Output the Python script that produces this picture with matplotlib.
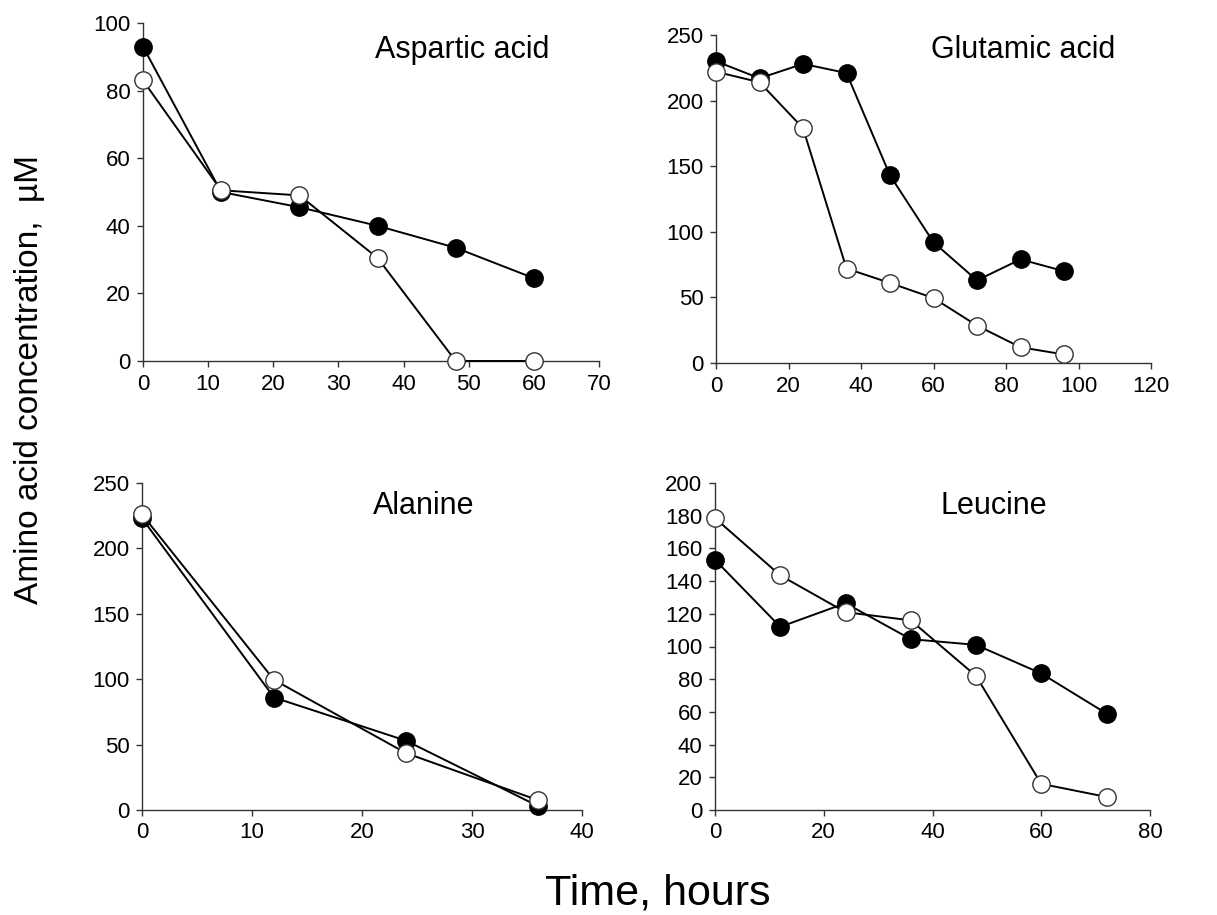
import matplotlib
matplotlib.use("Agg")
import matplotlib.pyplot as plt

plt.rcParams['font.family'] = ['Liberation Sans', 'DejaVu Sans']

# data (hours, uM)
asp_t = [0, 12, 24, 36, 48, 60]
asp_filled = [93, 50, 45.5, 40, 33.5, 24.5]
asp_open = [83, 50.5, 49, 30.5, 0, 0]

glu_t = [0, 12, 24, 36, 48, 60, 72, 84, 96]
glu_filled = [230, 217, 228, 221, 143, 92, 63, 79, 70]
glu_open = [222, 214, 179, 72, 61, 49.5, 28.5, 12, 6.5]

ala_t = [0, 12, 24, 36]
ala_filled = [223, 86, 53, 3]
ala_open = [226, 99.5, 43.5, 7.5]

leu_t = [0, 12, 24, 36, 48, 60, 72]
leu_filled = [153, 112, 126.5, 104.5, 101, 83.5, 59]
leu_open = [178.5, 143.5, 121, 116, 82, 16, 8]

panels = [
    ("Aspartic acid", asp_t, asp_filled, asp_open, (0, 70, 10), (0, 100, 20),
     [143, 361, 599, 23], (0.70, 0.92)),
    ("Glutamic acid", glu_t, glu_filled, glu_open, (0, 120, 20), (0, 250, 50),
     [716, 363, 1151, 35], (0.706, 0.955)),
    ("Alanine", ala_t, ala_filled, ala_open, (0, 40, 10), (0, 250, 50),
     [142, 810, 582, 483], (0.64, 0.93)),
    ("Leucine", leu_t, leu_filled, leu_open, (0, 80, 20), (0, 200, 20),
     [715, 810, 1150, 483], (0.64, 0.93)),
]

W, H = 1217, 915
fig = plt.figure(figsize=(W / 100, H / 100), dpi=100)

for name, t, filled, opn, xr, yr, px, tpos in panels:
    x0, y0, x1, y1 = px
    ax = fig.add_axes([x0 / W, 1 - y0 / H, (x1 - x0) / W, (y0 - y1) / H])
    ax.plot(t, filled, color='black', lw=1.4, marker='o', ms=12.5,
            mfc='black', mec='black', zorder=3, clip_on=False)
    ax.plot(t, opn, color='black', lw=1.4, marker='o', ms=12.5,
            mfc='white', mec='#333333', mew=1.0, zorder=4, clip_on=False)
    ax.set_xlim(xr[0], xr[1])
    ax.set_ylim(yr[0], yr[1])
    ax.set_xticks(range(xr[0], xr[1] + 1, xr[2]))
    ax.set_yticks(range(yr[0], yr[1] + 1, yr[2]))
    ax.spines['top'].set_visible(False)
    ax.spines['right'].set_visible(False)
    for s in ('left', 'bottom'):
        ax.spines[s].set_color('#333333')
        ax.spines[s].set_linewidth(1.0)
    ax.tick_params(direction='out', length=4, width=1.0, color='#333333',
                   labelsize=16, pad=5)
    ax.text(tpos[0], tpos[1], name, transform=ax.transAxes, fontsize=22,
            ha='center', va='center')

fig.text(30 / W, 1 - 379 / H, "Amino acid concentration,  µM", rotation=90,
         fontsize=24, ha='center', va='center')
fig.text(658 / W, 1 - 893 / H, "Time, hours", fontsize=31,
         ha='center', va='center')

fig.savefig("out.png", dpi=100)
